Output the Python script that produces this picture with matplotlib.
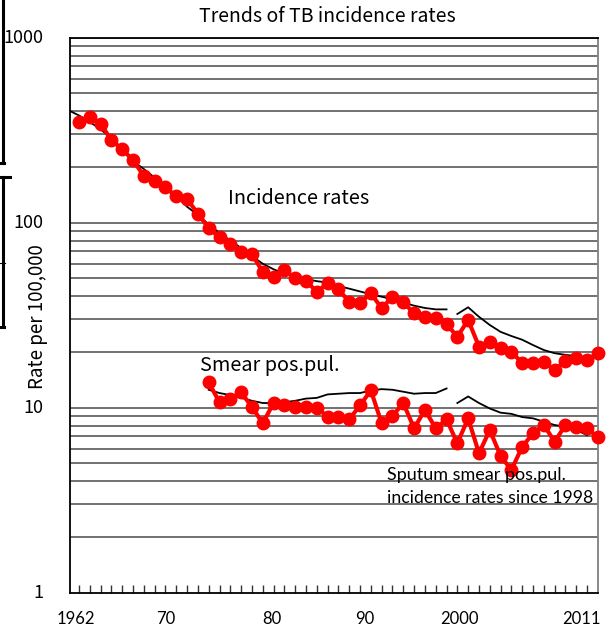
import matplotlib
matplotlib.use('Agg')
import matplotlib.pyplot as plt
from matplotlib.lines import Line2D
from matplotlib.ticker import FixedLocator

# red series: yearly incidence rates and smear positive rates
years_red = list(range(1963, 2012))
incidence_red = [351, 371, 342, 280, 249, 218, 179, 169, 155, 139, 134, 112,
                 93.3, 83.4, 76.7, 69.7, 67.5, 54.3, 51.1, 55.5, 50.1, 48.4, 42.4, 47.0,
                 43.6, 37.4, 36.9, 41.5, 34.5, 39.8, 37.1, 32.4, 30.8, 30.4, 28.3,
                 24.2, 29.8, 21.4, 22.7, 20.9, 20.1, 17.4, 17.4, 17.7, 16.0, 17.9, 18.5, 18.1, 19.7]
years_smear = list(range(1975, 2012))
smear_red = [13.7, 10.7, 11.1, 12.1, 10.1, 8.24, 10.6, 10.3, 10.1, 10.1, 10.0, 8.94,
             8.94, 8.65, 10.3, 12.4, 8.24, 9.02, 10.6, 7.74, 9.72, 7.74, 8.65,
             6.42, 8.76, 5.67, 7.57, 5.48, 4.61, 6.15, 7.27, 8.06, 6.55, 8.06, 7.89, 7.74, 6.92]

# black trend lines (two segments each, break at 1998)
years_inc_a = list(range(1962, 1998))
incidence_black_a = [406, 380, 350, 320, 285, 250, 215, 195, 175, 157, 140, 122, 110,
                     98, 88, 80, 73, 66, 60, 56, 53, 51, 49.5, 48.3, 47.5, 45.5,
                     44, 42.5, 41, 39.8, 38.6, 37, 35.6, 34.6, 34.0, 34.0]
years_inc_b = list(range(1998, 2010))
incidence_black_b = [32.1, 34.9, 31.0, 28.0, 25.7, 24.4, 23.3, 21.8, 20.5, 19.7, 19.3, 19.0]
years_sm_a = list(range(1975, 1998))
smear_black_a = [12.5, 12.0, 11.7, 11.3, 10.9, 10.6, 10.6, 10.7, 10.9, 11.2, 11.3, 11.8,
                 11.9, 12.0, 12.0, 12.4, 12.6, 12.5, 12.2, 11.9, 12.0, 12.0, 12.7]
years_sm_b = list(range(1998, 2011))
smear_black_b = [10.6, 11.5, 10.6, 9.9, 9.4, 9.26, 8.9, 8.76, 8.4, 8.06, 7.9, 7.6, 7.1]

# x labels (placed as in the original slide)
xlabels = ['1962', '70', '80', '90', '2000', '2011']
xlabel_pos = [1962.72, 1971.05, 1980.85, 1989.46, 1998.15, 2009.44]
ylabels = ['1000', '100', '10', '1']
ylabel_vals = [1000, 100, 10, 1]

W, H = 613, 630
fig = plt.figure(figsize=(W / 100, H / 100), dpi=100)
ax = fig.add_axes([70 / W, 1 - 592.7 / H, 528 / W, 555 / H])
ax.set_yscale('log')
ax.set_ylim(1, 1000)
ax.set_xlim(1962.17, 2011.01)

# gridlines
for dec in [1, 10, 100]:
    for m in range(2, 11):
        ax.axhline(dec * m, color='#4a4a4a', lw=1.1, zorder=1)

ax.plot(years_inc_a, incidence_black_a, color='black', lw=1.3, zorder=2)
ax.plot(years_inc_b, incidence_black_b, color='black', lw=1.3, zorder=2)
ax.plot(years_sm_a, smear_black_a, color='black', lw=1.3, zorder=2)
ax.plot(years_sm_b, smear_black_b, color='black', lw=1.3, zorder=2)

ax.plot(years_red, incidence_red, color='#ff0000', lw=3, marker='o', ms=9,
        zorder=3, clip_on=False)
ax.plot(years_smear, smear_red, color='#ff0000', lw=3, marker='o', ms=9,
        zorder=3, clip_on=False)

ax.yaxis.set_major_locator(FixedLocator([]))
ax.yaxis.set_minor_locator(FixedLocator([]))
ax.xaxis.set_major_locator(FixedLocator(list(range(1963, 2011))))
ax.tick_params(axis='x', direction='in', length=6, width=1, color='#333333',
               labelbottom=False)
for s in ['left', 'bottom', 'top']:
    ax.spines[s].set_color('black')
    ax.spines[s].set_linewidth(1.3)
ax.spines['right'].set_color('#808080')
ax.spines['right'].set_linewidth(1.3)

jp = ['Noto Sans CJK JP', 'DejaVu Sans']
for lab, v in zip(ylabels, ylabel_vals):
    ax.text(-0.05, v, lab, transform=ax.get_yaxis_transform(), ha='right',
            va='center', fontsize=13, family=jp)
for lab, p in zip(xlabels, xlabel_pos):
    ax.text(p, -0.048, lab, transform=ax.get_xaxis_transform(), ha='center',
            va='center', fontsize=12, family=['Lato', 'DejaVu Sans'])

fig.text(37 / W, 1 - 317 / H, 'Rate per 100,000', rotation=90, ha='center',
         va='center', fontsize=13.5, family=jp)
fig.text(327 / W, 1 - 17 / H, 'Trends of TB incidence rates', ha='center',
         va='center', fontsize=14, family=jp)
fig.text(228 / W, 1 - 198 / H, 'Incidence rates', ha='left', va='center',
         fontsize=14.3, family=jp)
fig.text(200 / W, 1 - 365 / H, 'Smear pos.pul.', ha='left', va='center',
         fontsize=14.3, family=jp)
fig.text(387 / W, 1 - 475 / H, 'Sputum smear pos.pul.', ha='left', va='center',
         fontsize=13, family=['Lato', 'DejaVu Sans'])
fig.text(387 / W, 1 - 498 / H, 'incidence rates since 1998', ha='left',
         va='center', fontsize=12.7, family=['Lato', 'DejaVu Sans'])

# box edges of neighbouring slide objects at the left border
def px_line(xs, ys, lw):
    fig.add_artist(Line2D([x / W for x in xs], [1 - y / H for y in ys],
                          color='black', lw=lw, transform=fig.transFigure))

px_line([3, 3], [0, 163], 2.2)
px_line([0, 4], [163, 163], 2.2)
px_line([0, 10], [177, 177], 2.2)
px_line([3, 3], [177, 327], 2.2)
px_line([0, 4], [327, 327], 2.2)
px_line([0, 5], [263, 263], 0.8)

fig.savefig('out.png', dpi=100)
